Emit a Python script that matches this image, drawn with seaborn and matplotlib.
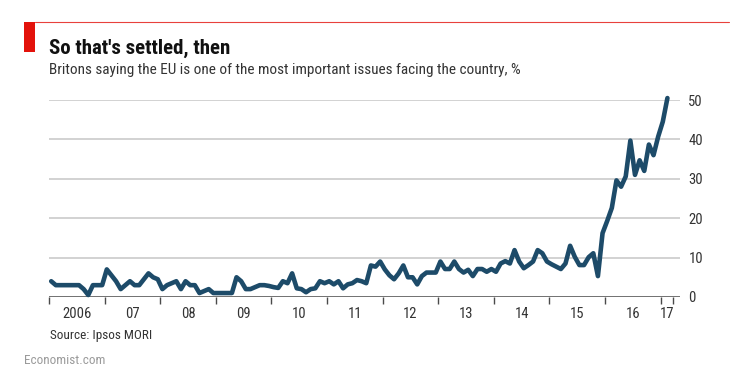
import numpy as np
import pandas as pd
import seaborn as sns
import matplotlib.pyplot as plt
from matplotlib import font_manager

# monthly share of Britons naming the EU as a top issue, %, Jan 2006 - Feb 2017
v2006 = [4, 3, 3, 3, 3, 3, 3, 2, 0.5, 3, 3, 3]
v2007 = [7, 5.5, 4, 2, 3, 4, 3, 3, 4.5, 6, 5, 4.5]
v2008 = [2, 3, 3.5, 4, 2, 4, 3, 3, 1, 1.5, 2, 1]
v2009 = [1, 1, 1, 1, 5, 4, 2, 2, 2.5, 3, 3, 2.8]
v2010 = [2.5, 2.3, 4, 3.5, 6, 2.2, 2, 1.2, 2, 2.2, 4, 3.5]
v2011 = [4, 3.2, 4, 2.2, 3.2, 3.5, 4.3, 4, 3.5, 8, 7.7, 9]
v2012 = [7, 5.5, 4.5, 6, 8, 5, 5, 3.2, 5.3, 6.2, 6.2, 6.2]
v2013 = [9, 7.1, 7.1, 9, 7.1, 6.2, 6.9, 5.3, 7.1, 7.1, 6.4, 7.1]
v2014 = [6.4, 8.5, 9.1, 8.5, 11.9, 9, 7.3, 8.1, 9, 11.9, 11.1, 9]
v2015 = [8.3, 7.7, 7.1, 8.5, 13, 10.2, 8.1, 8.1, 10.1, 11.1, 5.3, 16.2]
v2016 = [19.3, 22.6, 29.6, 28, 30.6, 39.7, 31, 34.7, 32, 38.7, 36, 40.7]
v2017 = [44.5, 50.5]

year_labels = ['2006', '07', '08', '09', '10', '11', '12', '13', '14', '15', '16', '17']
y_ticks = [0, 10, 20, 30, 40, 50]

values = v2006 + v2007 + v2008 + v2009 + v2010 + v2011 + v2012 + v2013 + v2014 + v2015 + v2016 + v2017
months = np.arange(len(values))
df = pd.DataFrame({'date': 2006.04 + months / 12, 'pct': values})

sns.set_theme(style='white')
names = {f.name for f in font_manager.fontManager.ttflist}
font = next((n for n in ['Liberation Sans Narrow', 'Roboto Condensed', 'Open Sans Condensed'] if n in names), 'Roboto')
plt.rcParams['font.family'] = [font, 'DejaVu Sans']

fig = plt.figure(figsize=(7.5, 3.79), dpi=100)
ax = fig.add_axes([0.0653, 0.2164, 0.8414, 0.5197])

for t in y_ticks[1:]:
    ax.axhline(t, color='#c6c6c6', lw=1.1, zorder=1)
ax.axhline(0, color='#4a4a4a', lw=1.1, zorder=2)

sns.lineplot(data=df, x='date', y='pct', color='#1d4b69', lw=3.3, ax=ax,
             clip_on=False, zorder=3)
ax.lines[-1].set_solid_joinstyle('round')

ax.set_xlim(2006, 2017.35)
ax.set_ylim(0, 50)
ax.set_xlabel('')
ax.set_ylabel('')
sns.despine(ax=ax, left=True, right=True, top=True, bottom=True)

ax.yaxis.tick_right()
ax.set_yticks(y_ticks)
ax.tick_params(axis='y', length=0, pad=6, labelsize=10.5, labelcolor='#333333')

ax.set_xticks(list(range(2006, 2018)) + [2017.22])
ax.set_xticklabels([])
label_pos = [y + 0.5 for y in range(2006, 2017)] + [2017.11]
ax.set_xticks(label_pos, minor=True)
ax.set_xticklabels(year_labels, minor=True)
ax.tick_params(axis='x', which='major', length=5, width=1, color='#4a4a4a', direction='out', bottom=True)
ax.tick_params(axis='x', which='minor', length=0, pad=7, labelsize=10.5, labelcolor='#333333', bottom=True)

# header decorations
fig.add_artist(plt.Line2D([0.046, 0.972], [0.9427, 0.9427], color='#e3120b', lw=0.8, alpha=0.8))
fig.add_artist(plt.Rectangle((0.032, 0.8628), 0.0142, 0.0799, color='#e3120b', lw=0))

fig.text(0.0647, 0.859, "So that's settled, then", fontsize=15, fontweight='bold',
         color='#111111', va='baseline')
fig.text(0.0647, 0.805, 'Britons saying the EU is one of the most important issues facing the country, %',
         fontsize=11, color='#333333', va='baseline')
fig.text(0.066, 0.105, 'Source: Ipsos MORI', fontsize=9.5, color='#333333', va='baseline')
fig.text(0.032, 0.04, 'Economist.com', fontsize=9.5, color='#9a9a9a', va='baseline')

fig.savefig('out.png', dpi=100)
